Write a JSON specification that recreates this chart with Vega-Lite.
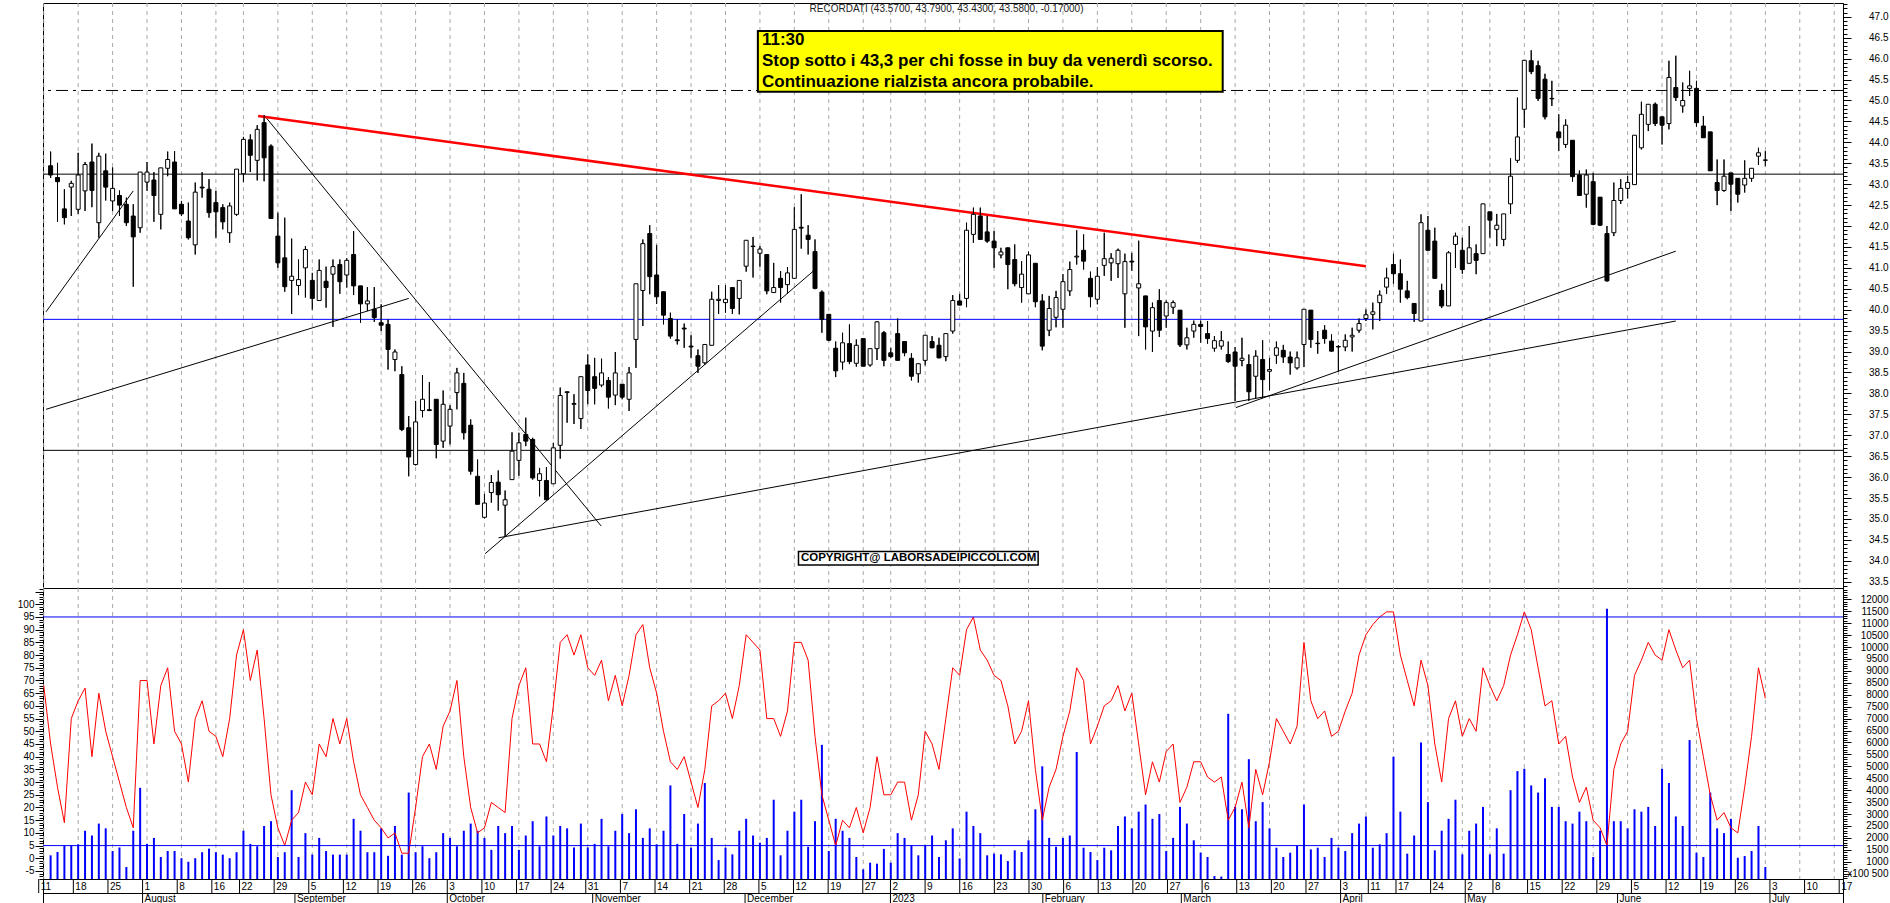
{
"$schema":"https://vega.github.io/schema/vega-lite/v6.json",
"padding":{"left":16,"top":2,"right":3,"bottom":0},
"background":"white",
"spacing":0,
"bounds":"flush",
"config":{"view":{"stroke":"black","strokeWidth":1},"axis":{"domainColor":"black","tickColor":"black","labelColor":"black","labelFont":"Liberation Sans","labelFontSize":10,"domainWidth":1,"tickWidth":1}},
"datasets":{
"candles":[
{"i":1,"o":43.44,"h":43.78,"l":43.15,"c":43.22,"v":1270},
{"i":2,"o":43.16,"h":43.51,"l":42.10,"c":43.06,"v":1410},
{"i":3,"o":42.41,"h":42.88,"l":42.04,"c":42.20,"v":1690},
{"i":4,"o":42.93,"h":43.08,"l":42.24,"c":43.02,"v":1690},
{"i":5,"o":42.40,"h":43.75,"l":42.29,"c":43.22,"v":1730},
{"i":6,"o":42.84,"h":43.53,"l":42.36,"c":43.47,"v":2300},
{"i":7,"o":43.53,"h":43.97,"l":42.45,"c":42.85,"v":2100},
{"i":8,"o":42.08,"h":43.75,"l":41.72,"c":43.67,"v":2600},
{"i":9,"o":43.32,"h":43.73,"l":42.61,"c":42.93,"v":2400},
{"i":10,"o":42.60,"h":43.40,"l":42.36,"c":42.90,"v":1450},
{"i":11,"o":42.73,"h":42.85,"l":42.24,"c":42.50,"v":1600},
{"i":12,"o":42.52,"h":42.68,"l":42.00,"c":42.08,"v":780},
{"i":13,"o":42.24,"h":42.52,"l":40.55,"c":41.74,"v":2300},
{"i":14,"o":41.96,"h":43.29,"l":41.84,"c":43.29,"v":4100},
{"i":15,"o":43.05,"h":43.53,"l":42.84,"c":43.29,"v":1750},
{"i":16,"o":43.10,"h":43.29,"l":42.10,"c":42.73,"v":2000},
{"i":17,"o":42.28,"h":43.39,"l":41.92,"c":43.39,"v":1200},
{"i":18,"o":43.38,"h":43.78,"l":43.19,"c":43.59,"v":1450},
{"i":19,"o":43.53,"h":43.79,"l":42.41,"c":42.41,"v":1450},
{"i":20,"o":42.52,"h":42.60,"l":42.24,"c":42.29,"v":1150},
{"i":21,"o":42.12,"h":42.56,"l":41.68,"c":41.72,"v":1000},
{"i":22,"o":41.55,"h":43.04,"l":41.32,"c":42.81,"v":1150},
{"i":23,"o":42.93,"h":43.29,"l":42.68,"c":42.91,"v":1400},
{"i":24,"o":42.88,"h":43.12,"l":42.20,"c":42.32,"v":1550},
{"i":25,"o":42.56,"h":42.84,"l":41.72,"c":42.34,"v":1400},
{"i":26,"o":42.44,"h":42.52,"l":41.92,"c":42.10,"v":1300},
{"i":27,"o":41.84,"h":42.56,"l":41.60,"c":42.48,"v":1150},
{"i":28,"o":42.28,"h":43.36,"l":42.24,"c":43.36,"v":1400},
{"i":29,"o":43.25,"h":44.13,"l":43.05,"c":44.07,"v":2300},
{"i":30,"o":44.06,"h":44.19,"l":43.29,"c":43.69,"v":1750},
{"i":31,"o":43.57,"h":44.41,"l":43.09,"c":44.31,"v":1650},
{"i":32,"o":44.47,"h":44.65,"l":43.07,"c":43.63,"v":2500},
{"i":33,"o":43.91,"h":43.95,"l":42.18,"c":42.18,"v":2700},
{"i":34,"o":41.76,"h":42.32,"l":41.00,"c":41.12,"v":1200},
{"i":35,"o":41.24,"h":42.20,"l":40.43,"c":40.55,"v":1400},
{"i":36,"o":40.70,"h":41.70,"l":39.90,"c":40.80,"v":4000},
{"i":37,"o":40.58,"h":41.20,"l":40.35,"c":40.72,"v":1200},
{"i":38,"o":41.00,"h":41.52,"l":40.29,"c":41.44,"v":2200},
{"i":39,"o":40.70,"h":40.88,"l":40.00,"c":40.27,"v":1300},
{"i":40,"o":40.22,"h":41.20,"l":40.22,"c":40.94,"v":2000},
{"i":41,"o":40.68,"h":41.03,"l":40.05,"c":40.53,"v":1450},
{"i":42,"o":40.85,"h":41.20,"l":39.59,"c":41.03,"v":1300},
{"i":43,"o":41.08,"h":41.20,"l":40.38,"c":40.67,"v":1300},
{"i":44,"o":40.83,"h":41.23,"l":40.53,"c":41.18,"v":1300},
{"i":45,"o":41.32,"h":41.88,"l":40.35,"c":40.57,"v":2800},
{"i":46,"o":40.57,"h":40.57,"l":39.69,"c":40.14,"v":2300},
{"i":47,"o":40.14,"h":40.54,"l":39.97,"c":40.21,"v":1400},
{"i":48,"o":40.01,"h":40.54,"l":39.71,"c":39.81,"v":1400},
{"i":49,"o":39.69,"h":40.13,"l":39.49,"c":39.63,"v":2400},
{"i":50,"o":39.65,"h":39.77,"l":38.57,"c":39.05,"v":1250},
{"i":51,"o":38.81,"h":39.05,"l":38.53,"c":38.99,"v":2500},
{"i":52,"o":38.45,"h":38.65,"l":37.10,"c":37.14,"v":1300},
{"i":53,"o":37.18,"h":37.46,"l":36.02,"c":36.48,"v":3900},
{"i":54,"o":36.30,"h":37.82,"l":36.28,"c":37.32,"v":1400},
{"i":55,"o":37.59,"h":38.44,"l":37.43,"c":37.86,"v":1650},
{"i":56,"o":37.61,"h":38.27,"l":37.58,"c":37.59,"v":1150},
{"i":57,"o":37.86,"h":37.86,"l":36.45,"c":36.78,"v":1400},
{"i":58,"o":36.86,"h":38.07,"l":36.70,"c":37.74,"v":2200},
{"i":59,"o":37.22,"h":37.72,"l":36.78,"c":37.62,"v":2000},
{"i":60,"o":38.02,"h":38.61,"l":37.62,"c":38.49,"v":1650},
{"i":61,"o":38.24,"h":38.49,"l":36.90,"c":37.06,"v":2300},
{"i":62,"o":37.24,"h":37.38,"l":36.06,"c":36.14,"v":2600},
{"i":63,"o":36.02,"h":36.42,"l":35.35,"c":35.35,"v":2300},
{"i":64,"o":35.04,"h":35.60,"l":35.01,"c":35.38,"v":2000},
{"i":65,"o":35.63,"h":36.05,"l":35.39,"c":35.87,"v":1500},
{"i":66,"o":35.88,"h":36.16,"l":35.20,"c":35.58,"v":2500},
{"i":67,"o":35.33,"h":35.68,"l":34.57,"c":35.46,"v":2200},
{"i":68,"o":35.94,"h":37.07,"l":35.94,"c":36.62,"v":2500},
{"i":69,"o":36.40,"h":37.06,"l":36.03,"c":36.82,"v":1500},
{"i":70,"o":37.02,"h":37.42,"l":36.74,"c":36.86,"v":2100},
{"i":71,"o":36.90,"h":36.94,"l":35.94,"c":35.98,"v":2700},
{"i":72,"o":35.92,"h":36.22,"l":35.54,"c":36.08,"v":1650},
{"i":73,"o":35.92,"h":36.24,"l":35.44,"c":35.46,"v":2900},
{"i":74,"o":35.84,"h":36.82,"l":35.84,"c":36.70,"v":2100},
{"i":75,"o":36.76,"h":38.14,"l":36.44,"c":37.95,"v":2500},
{"i":76,"o":38.02,"h":38.05,"l":37.30,"c":38.04,"v":2400},
{"i":77,"o":37.74,"h":37.98,"l":37.27,"c":37.76,"v":1600},
{"i":78,"o":37.40,"h":38.40,"l":37.15,"c":38.40,"v":2600},
{"i":79,"o":38.68,"h":38.93,"l":37.74,"c":38.07,"v":1600},
{"i":80,"o":38.40,"h":38.85,"l":37.74,"c":38.12,"v":1750},
{"i":81,"o":38.20,"h":38.83,"l":38.15,"c":38.49,"v":2800},
{"i":82,"o":38.31,"h":38.39,"l":37.64,"c":37.91,"v":1650},
{"i":83,"o":37.96,"h":38.99,"l":37.72,"c":38.49,"v":2300},
{"i":84,"o":38.22,"h":38.22,"l":37.86,"c":37.91,"v":3000},
{"i":85,"o":37.86,"h":38.63,"l":37.58,"c":38.49,"v":2200},
{"i":86,"o":39.29,"h":40.62,"l":38.61,"c":40.62,"v":3200},
{"i":87,"o":40.46,"h":41.68,"l":39.61,"c":41.58,"v":2000},
{"i":88,"o":41.82,"h":42.02,"l":40.37,"c":40.79,"v":2400},
{"i":89,"o":40.83,"h":41.55,"l":40.14,"c":40.31,"v":1730},
{"i":90,"o":40.43,"h":40.43,"l":39.65,"c":39.87,"v":2300},
{"i":91,"o":39.79,"h":39.93,"l":39.31,"c":39.37,"v":4200},
{"i":92,"o":39.28,"h":39.77,"l":39.17,"c":39.26,"v":1750},
{"i":93,"o":39.56,"h":39.67,"l":39.09,"c":39.54,"v":3000},
{"i":94,"o":39.13,"h":39.39,"l":38.85,"c":39.11,"v":1590},
{"i":95,"o":38.90,"h":39.05,"l":38.49,"c":38.65,"v":2600},
{"i":96,"o":38.73,"h":39.17,"l":38.69,"c":39.17,"v":4300},
{"i":97,"o":39.15,"h":40.43,"l":39.15,"c":40.25,"v":2000},
{"i":98,"o":40.22,"h":40.59,"l":39.90,"c":40.25,"v":1070},
{"i":99,"o":40.17,"h":40.59,"l":39.93,"c":40.25,"v":1590},
{"i":100,"o":40.53,"h":40.53,"l":39.90,"c":40.03,"v":1310},
{"i":101,"o":40.27,"h":40.70,"l":39.89,"c":40.70,"v":2300},
{"i":102,"o":41.04,"h":41.66,"l":40.91,"c":41.66,"v":2800},
{"i":103,"o":41.51,"h":41.74,"l":40.77,"c":41.52,"v":2100},
{"i":104,"o":41.35,"h":41.52,"l":41.03,"c":41.45,"v":1800},
{"i":105,"o":41.32,"h":41.32,"l":40.37,"c":40.45,"v":2000},
{"i":106,"o":40.41,"h":41.12,"l":40.41,"c":40.53,"v":3600},
{"i":107,"o":40.75,"h":40.92,"l":40.17,"c":40.53,"v":1270},
{"i":108,"o":40.60,"h":41.02,"l":40.38,"c":40.88,"v":2300},
{"i":109,"o":40.75,"h":42.45,"l":40.75,"c":41.92,"v":3100},
{"i":110,"o":41.97,"h":42.76,"l":41.46,"c":41.95,"v":3600},
{"i":111,"o":41.78,"h":42.02,"l":41.32,"c":41.68,"v":1630},
{"i":112,"o":41.39,"h":41.68,"l":40.49,"c":40.51,"v":2700},
{"i":113,"o":40.42,"h":40.46,"l":39.45,"c":39.77,"v":5900},
{"i":114,"o":39.89,"h":39.89,"l":39.25,"c":39.27,"v":1450},
{"i":115,"o":39.08,"h":39.24,"l":38.39,"c":38.54,"v":2800},
{"i":116,"o":38.75,"h":39.45,"l":38.57,"c":39.21,"v":2300},
{"i":117,"o":39.19,"h":39.65,"l":38.70,"c":38.76,"v":2000},
{"i":118,"o":38.72,"h":39.29,"l":38.64,"c":39.15,"v":1200},
{"i":119,"o":39.31,"h":39.31,"l":38.65,"c":38.65,"v":680},
{"i":120,"o":38.68,"h":39.07,"l":38.64,"c":39.07,"v":960},
{"i":121,"o":39.07,"h":39.73,"l":38.80,"c":39.71,"v":920},
{"i":122,"o":39.45,"h":39.49,"l":38.65,"c":38.79,"v":1540},
{"i":123,"o":38.97,"h":39.09,"l":38.85,"c":38.88,"v":960},
{"i":124,"o":39.43,"h":39.79,"l":38.79,"c":38.79,"v":2200},
{"i":125,"o":39.24,"h":39.24,"l":38.89,"c":38.97,"v":2000},
{"i":126,"o":38.84,"h":38.96,"l":38.31,"c":38.41,"v":1700},
{"i":127,"o":38.47,"h":38.71,"l":38.26,"c":38.71,"v":1270},
{"i":128,"o":38.79,"h":39.39,"l":38.67,"c":39.39,"v":1700},
{"i":129,"o":39.24,"h":39.37,"l":39.08,"c":39.09,"v":2100},
{"i":130,"o":39.15,"h":39.33,"l":38.84,"c":38.85,"v":1200},
{"i":131,"o":38.88,"h":39.43,"l":38.77,"c":39.43,"v":1900},
{"i":132,"o":39.49,"h":40.35,"l":39.43,"c":40.22,"v":2400},
{"i":133,"o":40.21,"h":40.38,"l":40.11,"c":40.11,"v":1140},
{"i":134,"o":40.27,"h":42.08,"l":40.06,"c":41.90,"v":3100},
{"i":135,"o":41.80,"h":42.44,"l":41.60,"c":42.28,"v":2500},
{"i":136,"o":42.24,"h":42.44,"l":41.68,"c":41.68,"v":2200},
{"i":137,"o":41.86,"h":42.24,"l":41.60,"c":41.64,"v":1270},
{"i":138,"o":41.64,"h":41.88,"l":41.00,"c":41.48,"v":1340},
{"i":139,"o":41.31,"h":41.48,"l":41.23,"c":41.38,"v":1310},
{"i":140,"o":41.48,"h":41.48,"l":40.49,"c":41.08,"v":1030},
{"i":141,"o":41.20,"h":41.56,"l":40.56,"c":40.62,"v":1480},
{"i":142,"o":40.53,"h":41.16,"l":40.17,"c":40.85,"v":1410},
{"i":143,"o":40.38,"h":41.39,"l":40.38,"c":41.31,"v":1900},
{"i":144,"o":41.11,"h":41.11,"l":40.06,"c":40.19,"v":3200},
{"i":145,"o":40.21,"h":40.37,"l":39.03,"c":39.13,"v":5000},
{"i":146,"o":39.51,"h":40.33,"l":39.37,"c":40.03,"v":2000},
{"i":147,"o":39.82,"h":40.45,"l":39.58,"c":40.29,"v":1630},
{"i":148,"o":40.01,"h":40.85,"l":39.57,"c":40.67,"v":2000},
{"i":149,"o":40.45,"h":41.15,"l":40.33,"c":40.96,"v":2100},
{"i":150,"o":41.26,"h":41.90,"l":41.08,"c":41.28,"v":5600},
{"i":151,"o":41.42,"h":41.80,"l":40.96,"c":41.16,"v":1590},
{"i":152,"o":40.75,"h":40.91,"l":40.06,"c":40.31,"v":1410},
{"i":153,"o":40.25,"h":41.02,"l":40.13,"c":40.80,"v":1070},
{"i":154,"o":41.06,"h":41.84,"l":40.81,"c":41.22,"v":1590},
{"i":155,"o":41.12,"h":41.35,"l":40.69,"c":41.23,"v":1480},
{"i":156,"o":41.10,"h":41.46,"l":40.76,"c":41.42,"v":2500},
{"i":157,"o":40.38,"h":41.34,"l":39.57,"c":41.15,"v":2900},
{"i":158,"o":41.16,"h":41.36,"l":40.93,"c":41.14,"v":2400},
{"i":159,"o":40.52,"h":41.65,"l":39.37,"c":40.62,"v":3100},
{"i":160,"o":40.33,"h":40.33,"l":39.05,"c":39.59,"v":3400},
{"i":161,"o":39.49,"h":40.17,"l":38.99,"c":40.05,"v":2800},
{"i":162,"o":40.22,"h":40.49,"l":39.35,"c":39.51,"v":3000},
{"i":163,"o":39.85,"h":40.22,"l":39.57,"c":40.17,"v":1450},
{"i":164,"o":40.06,"h":40.22,"l":39.90,"c":40.17,"v":2000},
{"i":165,"o":39.99,"h":39.99,"l":39.11,"c":39.16,"v":3300},
{"i":166,"o":39.16,"h":39.57,"l":39.05,"c":39.33,"v":2600},
{"i":167,"o":39.49,"h":39.74,"l":39.33,"c":39.65,"v":1900},
{"i":168,"o":39.65,"h":39.74,"l":39.21,"c":39.60,"v":1380},
{"i":169,"o":39.43,"h":39.73,"l":39.19,"c":39.31,"v":1200},
{"i":170,"o":39.08,"h":39.37,"l":39.00,"c":39.26,"v":400},
{"i":171,"o":39.13,"h":39.49,"l":39.05,"c":39.26,"v":380},
{"i":172,"o":38.93,"h":39.24,"l":38.73,"c":38.76,"v":7200},
{"i":173,"o":38.99,"h":39.11,"l":37.82,"c":38.65,"v":3300},
{"i":174,"o":38.79,"h":39.33,"l":38.65,"c":38.84,"v":3200},
{"i":175,"o":38.69,"h":38.93,"l":37.82,"c":38.04,"v":5300},
{"i":176,"o":38.41,"h":39.03,"l":37.89,"c":38.89,"v":2700},
{"i":177,"o":38.81,"h":39.27,"l":37.89,"c":38.33,"v":3500},
{"i":178,"o":38.53,"h":38.85,"l":38.07,"c":38.57,"v":2400},
{"i":179,"o":38.91,"h":39.24,"l":38.71,"c":39.09,"v":1590},
{"i":180,"o":39.03,"h":39.16,"l":38.73,"c":38.87,"v":1200},
{"i":181,"o":38.87,"h":39.00,"l":38.45,"c":38.73,"v":1380},
{"i":182,"o":38.61,"h":39.00,"l":38.57,"c":38.85,"v":1660},
{"i":183,"o":39.17,"h":40.01,"l":38.63,"c":40.01,"v":3400},
{"i":184,"o":39.99,"h":39.99,"l":39.09,"c":39.29,"v":1520},
{"i":185,"o":39.20,"h":39.49,"l":38.95,"c":39.19,"v":1590},
{"i":186,"o":39.51,"h":39.63,"l":39.19,"c":39.31,"v":1200},
{"i":187,"o":39.25,"h":39.41,"l":39.00,"c":39.01,"v":2000},
{"i":188,"o":39.12,"h":39.15,"l":38.53,"c":39.11,"v":1590},
{"i":189,"o":39.11,"h":39.41,"l":39.01,"c":39.27,"v":1450},
{"i":190,"o":39.35,"h":39.57,"l":39.00,"c":39.39,"v":2200},
{"i":191,"o":39.51,"h":39.79,"l":39.45,"c":39.67,"v":2600},
{"i":192,"o":39.79,"h":40.01,"l":39.73,"c":39.88,"v":2900},
{"i":193,"o":39.89,"h":40.17,"l":39.53,"c":39.95,"v":1590},
{"i":194,"o":40.17,"h":40.46,"l":39.73,"c":40.35,"v":1730},
{"i":195,"o":40.54,"h":41.00,"l":40.38,"c":40.76,"v":2200},
{"i":196,"o":41.08,"h":41.34,"l":40.62,"c":40.86,"v":5400},
{"i":197,"o":40.86,"h":41.20,"l":40.17,"c":40.49,"v":3100},
{"i":198,"o":40.45,"h":40.69,"l":40.25,"c":40.29,"v":1340},
{"i":199,"o":40.15,"h":40.15,"l":39.71,"c":39.91,"v":2100},
{"i":200,"o":39.73,"h":42.28,"l":39.73,"c":42.08,"v":6000},
{"i":201,"o":41.90,"h":42.24,"l":41.42,"c":41.42,"v":3500},
{"i":202,"o":41.64,"h":41.96,"l":40.75,"c":40.75,"v":1480},
{"i":203,"o":40.46,"h":40.62,"l":40.04,"c":40.09,"v":2300},
{"i":204,"o":40.09,"h":41.40,"l":40.09,"c":41.36,"v":2800},
{"i":205,"o":41.56,"h":41.84,"l":41.00,"c":41.76,"v":3600},
{"i":206,"o":41.42,"h":41.72,"l":40.86,"c":40.96,"v":1310},
{"i":207,"o":41.11,"h":42.00,"l":41.11,"c":41.48,"v":2300},
{"i":208,"o":41.34,"h":41.56,"l":40.85,"c":41.18,"v":2600},
{"i":209,"o":41.34,"h":42.53,"l":41.34,"c":42.53,"v":3300},
{"i":210,"o":42.34,"h":42.34,"l":41.72,"c":42.14,"v":1310},
{"i":211,"o":41.92,"h":42.29,"l":41.52,"c":42.02,"v":2400},
{"i":212,"o":41.68,"h":42.29,"l":41.52,"c":42.29,"v":1340},
{"i":213,"o":42.53,"h":43.62,"l":42.29,"c":43.19,"v":4000},
{"i":214,"o":43.57,"h":45.07,"l":43.51,"c":44.13,"v":4800},
{"i":215,"o":44.79,"h":45.96,"l":44.35,"c":45.96,"v":4900},
{"i":216,"o":45.95,"h":46.20,"l":45.63,"c":45.69,"v":4200},
{"i":217,"o":45.83,"h":45.95,"l":44.99,"c":45.05,"v":3900},
{"i":218,"o":45.51,"h":45.64,"l":44.55,"c":44.61,"v":4500},
{"i":219,"o":45.04,"h":45.47,"l":44.87,"c":45.05,"v":3300},
{"i":220,"o":44.25,"h":44.67,"l":43.79,"c":44.11,"v":3300},
{"i":221,"o":43.95,"h":44.55,"l":43.87,"c":44.41,"v":2700},
{"i":222,"o":44.05,"h":44.05,"l":43.06,"c":43.18,"v":2600},
{"i":223,"o":43.22,"h":43.33,"l":42.73,"c":42.73,"v":3100},
{"i":224,"o":42.76,"h":43.35,"l":42.44,"c":43.22,"v":2700},
{"i":225,"o":43.06,"h":43.27,"l":42.02,"c":42.04,"v":1200},
{"i":226,"o":42.69,"h":42.69,"l":42.00,"c":42.02,"v":2300},
{"i":227,"o":41.82,"h":42.00,"l":40.67,"c":40.69,"v":11600},
{"i":228,"o":41.84,"h":43.04,"l":41.76,"c":42.61,"v":2700},
{"i":229,"o":42.61,"h":43.12,"l":42.53,"c":42.90,"v":2700},
{"i":230,"o":42.90,"h":43.20,"l":42.66,"c":43.04,"v":2400},
{"i":231,"o":42.99,"h":44.17,"l":42.99,"c":44.17,"v":3200},
{"i":232,"o":43.87,"h":44.97,"l":43.83,"c":44.67,"v":3100},
{"i":233,"o":44.43,"h":44.91,"l":44.27,"c":44.91,"v":3300},
{"i":234,"o":44.91,"h":44.95,"l":44.39,"c":44.45,"v":2500},
{"i":235,"o":44.61,"h":44.61,"l":43.95,"c":44.41,"v":4900},
{"i":236,"o":44.45,"h":45.95,"l":44.31,"c":45.55,"v":4300},
{"i":237,"o":45.31,"h":46.07,"l":44.99,"c":45.07,"v":2900},
{"i":238,"o":44.87,"h":45.43,"l":44.71,"c":45.00,"v":2500},
{"i":239,"o":45.29,"h":45.71,"l":45.11,"c":45.35,"v":6100},
{"i":240,"o":45.29,"h":45.47,"l":44.37,"c":44.47,"v":1380},
{"i":241,"o":44.39,"h":44.63,"l":44.11,"c":44.11,"v":1200},
{"i":242,"o":44.25,"h":44.25,"l":43.32,"c":43.32,"v":3900},
{"i":243,"o":43.04,"h":43.59,"l":42.50,"c":42.85,"v":2400},
{"i":244,"o":42.85,"h":43.59,"l":42.82,"c":43.19,"v":2200},
{"i":245,"o":43.27,"h":43.27,"l":42.36,"c":43.00,"v":2800},
{"i":246,"o":43.14,"h":43.14,"l":42.56,"c":42.76,"v":1170},
{"i":247,"o":42.98,"h":43.57,"l":42.80,"c":43.14,"v":1240},
{"i":248,"o":43.14,"h":43.38,"l":43.06,"c":43.38,"v":1450},
{"i":249,"o":43.67,"h":43.87,"l":43.46,"c":43.75,"v":2500},
{"i":250,"o":43.57,"h":43.79,"l":43.43,"c":43.58,"v":780}
],
"osc":[
{"i":0,"r":68},{"i":1,"r":45},{"i":2,"r":28},{"i":3,"r":14},{"i":4,"r":55},{"i":5,"r":62},{"i":6,"r":67},{"i":7,"r":40},{"i":8,"r":65},{"i":9,"r":50},
{"i":10,"r":40},{"i":11,"r":30},{"i":12,"r":20},{"i":13,"r":12},{"i":14,"r":70},{"i":15,"r":70},{"i":16,"r":45},{"i":17,"r":68},{"i":18,"r":75},{"i":19,"r":50},
{"i":20,"r":45},{"i":21,"r":30},{"i":22,"r":55},{"i":23,"r":62},{"i":24,"r":50},{"i":25,"r":48},{"i":26,"r":40},{"i":27,"r":55},{"i":28,"r":80},{"i":29,"r":90},
{"i":30,"r":70},{"i":31,"r":82},{"i":32,"r":55},{"i":33,"r":25},{"i":34,"r":12},{"i":35,"r":5},{"i":36,"r":15},{"i":37,"r":18},{"i":38,"r":30},{"i":39,"r":25},
{"i":40,"r":45},{"i":41,"r":40},{"i":42,"r":55},{"i":43,"r":45},{"i":44,"r":55},{"i":45,"r":38},{"i":46,"r":25},{"i":47,"r":20},{"i":48,"r":15},{"i":49,"r":12},
{"i":50,"r":8},{"i":51,"r":10},{"i":52,"r":2},{"i":53,"r":2},{"i":54,"r":20},{"i":55,"r":40},{"i":56,"r":45},{"i":57,"r":35},{"i":58,"r":52},{"i":59,"r":58},
{"i":60,"r":70},{"i":61,"r":40},{"i":62,"r":20},{"i":63,"r":10},{"i":64,"r":12},{"i":65,"r":22},{"i":66,"r":20},{"i":67,"r":18},{"i":68,"r":55},{"i":69,"r":68},
{"i":70,"r":75},{"i":71,"r":45},{"i":72,"r":45},{"i":73,"r":38},{"i":74,"r":60},{"i":75,"r":85},{"i":76,"r":88},{"i":77,"r":80},{"i":78,"r":88},{"i":79,"r":75},
{"i":80,"r":72},{"i":81,"r":78},{"i":82,"r":62},{"i":83,"r":72},{"i":84,"r":60},{"i":85,"r":72},{"i":86,"r":88},{"i":87,"r":92},{"i":88,"r":75},{"i":89,"r":65},
{"i":90,"r":50},{"i":91,"r":38},{"i":92,"r":35},{"i":93,"r":40},{"i":94,"r":30},{"i":95,"r":20},{"i":96,"r":35},{"i":97,"r":60},{"i":98,"r":62},{"i":99,"r":65},
{"i":100,"r":55},{"i":101,"r":68},{"i":102,"r":88},{"i":103,"r":85},{"i":104,"r":82},{"i":105,"r":55},{"i":106,"r":55},{"i":107,"r":48},{"i":108,"r":58},{"i":109,"r":85},
{"i":110,"r":85},{"i":111,"r":78},{"i":112,"r":48},{"i":113,"r":25},{"i":114,"r":15},{"i":115,"r":5},{"i":116,"r":15},{"i":117,"r":12},{"i":118,"r":20},{"i":119,"r":10},
{"i":120,"r":20},{"i":121,"r":40},{"i":122,"r":25},{"i":123,"r":25},{"i":124,"r":30},{"i":125,"r":30},{"i":126,"r":15},{"i":127,"r":25},{"i":128,"r":50},{"i":129,"r":45},
{"i":130,"r":35},{"i":131,"r":55},{"i":132,"r":75},{"i":133,"r":72},{"i":134,"r":90},{"i":135,"r":95},{"i":136,"r":82},{"i":137,"r":78},{"i":138,"r":72},{"i":139,"r":70},
{"i":140,"r":60},{"i":141,"r":45},{"i":142,"r":50},{"i":143,"r":62},{"i":144,"r":35},{"i":145,"r":15},{"i":146,"r":28},{"i":147,"r":35},{"i":148,"r":48},{"i":149,"r":58},
{"i":150,"r":75},{"i":151,"r":70},{"i":152,"r":45},{"i":153,"r":52},{"i":154,"r":60},{"i":155,"r":62},{"i":156,"r":68},{"i":157,"r":58},{"i":158,"r":65},{"i":159,"r":45},
{"i":160,"r":25},{"i":161,"r":38},{"i":162,"r":30},{"i":163,"r":42},{"i":164,"r":45},{"i":165,"r":22},{"i":166,"r":28},{"i":167,"r":38},{"i":168,"r":38},{"i":169,"r":32},
{"i":170,"r":30},{"i":171,"r":32},{"i":172,"r":15},{"i":173,"r":20},{"i":174,"r":30},{"i":175,"r":12},{"i":176,"r":35},{"i":177,"r":25},{"i":178,"r":38},{"i":179,"r":55},
{"i":180,"r":50},{"i":181,"r":45},{"i":182,"r":52},{"i":183,"r":85},{"i":184,"r":62},{"i":185,"r":55},{"i":186,"r":58},{"i":187,"r":48},{"i":188,"r":50},{"i":189,"r":58},
{"i":190,"r":65},{"i":191,"r":80},{"i":192,"r":88},{"i":193,"r":92},{"i":194,"r":95},{"i":195,"r":97},{"i":196,"r":97},{"i":197,"r":80},{"i":198,"r":70},{"i":199,"r":60},
{"i":200,"r":78},{"i":201,"r":68},{"i":202,"r":45},{"i":203,"r":30},{"i":204,"r":55},{"i":205,"r":62},{"i":206,"r":48},{"i":207,"r":55},{"i":208,"r":50},{"i":209,"r":75},
{"i":210,"r":68},{"i":211,"r":62},{"i":212,"r":68},{"i":213,"r":80},{"i":214,"r":88},{"i":215,"r":97},{"i":216,"r":90},{"i":217,"r":75},{"i":218,"r":60},{"i":219,"r":62},
{"i":220,"r":45},{"i":221,"r":48},{"i":222,"r":32},{"i":223,"r":22},{"i":224,"r":28},{"i":225,"r":15},{"i":226,"r":12},{"i":227,"r":5},{"i":228,"r":35},{"i":229,"r":45},
{"i":230,"r":50},{"i":231,"r":72},{"i":232,"r":78},{"i":233,"r":85},{"i":234,"r":80},{"i":235,"r":78},{"i":236,"r":90},{"i":237,"r":82},{"i":238,"r":75},{"i":239,"r":78},
{"i":240,"r":55},{"i":241,"r":40},{"i":242,"r":25},{"i":243,"r":15},{"i":244,"r":18},{"i":245,"r":12},{"i":246,"r":10},{"i":247,"r":28},{"i":248,"r":48},{"i":249,"r":75},
{"i":250,"r":63}
],
"xlab":[
{"i":0,"t":"11","row":"day"},{"i":5,"t":"18","row":"day"},{"i":10,"t":"25","row":"day"},{"i":15,"t":"1","row":"day"},{"i":20,"t":"8","row":"day"},{"i":25,"t":"16","row":"day"},{"i":29,"t":"22","row":"day"},{"i":34,"t":"29","row":"day"},{"i":39,"t":"5","row":"day"},{"i":44,"t":"12","row":"day"},{"i":49,"t":"19","row":"day"},{"i":54,"t":"26","row":"day"},{"i":59,"t":"3","row":"day"},{"i":64,"t":"10","row":"day"},{"i":69,"t":"17","row":"day"},{"i":74,"t":"24","row":"day"},{"i":79,"t":"31","row":"day"},{"i":84,"t":"7","row":"day"},{"i":89,"t":"14","row":"day"},{"i":94,"t":"21","row":"day"},{"i":99,"t":"28","row":"day"},{"i":104,"t":"5","row":"day"},{"i":109,"t":"12","row":"day"},{"i":114,"t":"19","row":"day"},{"i":119,"t":"27","row":"day"},{"i":123,"t":"2","row":"day"},{"i":128,"t":"9","row":"day"},{"i":133,"t":"16","row":"day"},{"i":138,"t":"23","row":"day"},{"i":143,"t":"30","row":"day"},{"i":148,"t":"6","row":"day"},{"i":153,"t":"13","row":"day"},{"i":158,"t":"20","row":"day"},{"i":163,"t":"27","row":"day"},{"i":168,"t":"6","row":"day"},{"i":173,"t":"13","row":"day"},{"i":178,"t":"20","row":"day"},{"i":183,"t":"27","row":"day"},{"i":188,"t":"3","row":"day"},{"i":192,"t":"11","row":"day"},{"i":196,"t":"17","row":"day"},{"i":201,"t":"24","row":"day"},{"i":206,"t":"2","row":"day"},{"i":210,"t":"8","row":"day"},{"i":215,"t":"15","row":"day"},{"i":220,"t":"22","row":"day"},{"i":225,"t":"29","row":"day"},{"i":230,"t":"5","row":"day"},{"i":235,"t":"12","row":"day"},{"i":240,"t":"19","row":"day"},{"i":245,"t":"26","row":"day"},{"i":250,"t":"3","row":"day"},{"i":255,"t":"10","row":"day"},{"i":260,"t":"17","row":"day"},
{"i":15,"t":"August","row":"month"},{"i":37,"t":"September","row":"month"},{"i":59,"t":"October","row":"month"},{"i":80,"t":"November","row":"month"},{"i":102,"t":"December","row":"month"},{"i":123,"t":"2023","row":"month"},{"i":145,"t":"February","row":"month"},{"i":165,"t":"March","row":"month"},{"i":188,"t":"April","row":"month"},{"i":206,"t":"May","row":"month"},{"i":228,"t":"June","row":"month"},{"i":250,"t":"July","row":"month"}
],
"trend":[
{"kind":"red","x1":31.13,"y1":44.63,"x2":192.0,"y2":41.04},
{"kind":"black","x1":0.33,"y1":39.95,"x2":13.0,"y2":42.84},
{"kind":"black","x1":0.33,"y1":37.62,"x2":53.0,"y2":40.27},
{"kind":"black","x1":32.1,"y1":44.63,"x2":80.95,"y2":34.83},
{"kind":"black","x1":64.1,"y1":34.17,"x2":111.8,"y2":40.93},
{"kind":"black","x1":66.04,"y1":34.55,"x2":237.0,"y2":39.73},
{"kind":"black","x1":173.1,"y1":37.66,"x2":237.0,"y2":41.40}
],
"levels":[{"p":45.24,"k":"dash"},{"p":43.24,"k":"solid"},{"p":36.64,"k":"solid"},{"p":39.77,"k":"blue"}],
"osclevels":[{"r":95},{"r":5}],
"boxes":[
{"kind":"note","x1":103.7,"x2":171.2,"y1":45.21,"y2":46.66},
{"kind":"copy","x1":109.6,"x2":144.4,"y1":33.90,"y2":34.22}
],
"notes":[
{"kind":"note","i":104.3,"p":46.64,"t":"11:30\nStop sotto i 43,3 per chi fosse in buy da venerdì scorso.\nContinuazione rialzista ancora probabile."},
{"kind":"copy","i":127.05,"p":34.06,"t":"COPYRIGHT@ LABORSADEIPICCOLI.COM"},
{"kind":"title","i":131.1,"p":47.18,"t":"RECORDATI (43.5700, 43.7900, 43.4300, 43.5800, -0.17000)"}
]
},
"vconcat":[
{
"width":1800,"height":585,
"layer":[
{"data":{"name":"candles"},"mark":{"type":"rule","color":"black","strokeWidth":1,"clip":true},
 "encoding":{"x":{"field":"i","type":"quantitative","scale":{"domain":[0.62,260.55],"nice":false,"zero":false},"axis":null},
 "y":{"field":"l","type":"quantitative","scale":{"domain":[33.35,47.33],"nice":false,"zero":false},
  "axis":{"orient":"right","title":null,"tickCount":140,"grid":false,"labelOverlap":false,"labelFlush":false,"labelAlign":"right","labelPadding":37,"format":".1f",
   "labelExpr":"round(datum.value*10) % 5 == 0 ? datum.label : ''",
   "labelFontSize":{"condition":{"test":"round(datum.value*10) % 5 == 0","value":10},"value":0},
   "tickSize":{"condition":{"test":"round(datum.value*10) % 5 == 0","value":8},"value":4}}},
 "y2":{"field":"h"}}},
{"data":{"name":"xlab"},"transform":[{"filter":"datum.row == 'day'"}],"mark":{"type":"rule","strokeDash":[4,4],"color":"#a8a8a8","clip":true},
 "encoding":{"x":{"field":"i","type":"quantitative","scale":{"domain":[0.62,260.55],"nice":false,"zero":false},"axis":null}}},
{"data":{"name":"levels"},"transform":[{"filter":"datum.k == 'solid'"}],"mark":{"type":"rule","color":"black","strokeWidth":1},
 "encoding":{"y":{"field":"p","type":"quantitative","scale":{"domain":[33.35,47.33],"nice":false,"zero":false},"axis":null}}},
{"data":{"name":"levels"},"transform":[{"filter":"datum.k == 'blue'"}],"mark":{"type":"rule","color":"#0000ff","strokeWidth":1},
 "encoding":{"y":{"field":"p","type":"quantitative","scale":{"domain":[33.35,47.33],"nice":false,"zero":false},"axis":null}}},
{"data":{"name":"levels"},"transform":[{"filter":"datum.k == 'dash'"}],"mark":{"type":"rule","color":"black","strokeWidth":1,"strokeDash":[12,5,3,5]},
 "encoding":{"y":{"field":"p","type":"quantitative","scale":{"domain":[33.35,47.33],"nice":false,"zero":false},"axis":null}}},
{"data":{"name":"trend"},"transform":[{"filter":"datum.kind == 'black'"}],"mark":{"type":"rule","color":"black","strokeWidth":1,"clip":true},
 "encoding":{"x":{"field":"x1","type":"quantitative","scale":{"domain":[0.62,260.55],"nice":false,"zero":false},"axis":null},"x2":{"field":"x2"},
 "y":{"field":"y1","type":"quantitative","scale":{"domain":[33.35,47.33],"nice":false,"zero":false},"axis":null},"y2":{"field":"y2"}}},
{"data":{"name":"trend"},"transform":[{"filter":"datum.kind == 'red'"}],"mark":{"type":"rule","color":"#ff0000","strokeWidth":2.5,"clip":true},
 "encoding":{"x":{"field":"x1","type":"quantitative","scale":{"domain":[0.62,260.55],"nice":false,"zero":false},"axis":null},"x2":{"field":"x2"},
 "y":{"field":"y1","type":"quantitative","scale":{"domain":[33.35,47.33],"nice":false,"zero":false},"axis":null},"y2":{"field":"y2"}}},
{"data":{"name":"candles"},"mark":{"type":"rule","color":"black","strokeWidth":1,"clip":true},
 "encoding":{"x":{"field":"i","type":"quantitative","scale":{"domain":[0.62,260.55],"nice":false,"zero":false},"axis":null},
 "y":{"field":"l","type":"quantitative","scale":{"domain":[33.35,47.33],"nice":false,"zero":false},"axis":null},"y2":{"field":"h"}}},
{"data":{"name":"candles"},"mark":{"type":"bar","size":4,"stroke":"black","strokeWidth":1,"clip":true},
 "encoding":{"x":{"field":"i","type":"quantitative","scale":{"domain":[0.62,260.55],"nice":false,"zero":false},"axis":null},
 "y":{"field":"o","type":"quantitative","scale":{"domain":[33.35,47.33],"nice":false,"zero":false},"axis":null},"y2":{"field":"c"},
 "fill":{"condition":{"test":"datum.c >= datum.o","value":"white"},"value":"black"}}},
{"data":{"name":"boxes"},"transform":[{"filter":"datum.kind == 'note'"}],"mark":{"type":"rect","fill":"#ffff00","stroke":"black","strokeWidth":2},
 "encoding":{"x":{"field":"x1","type":"quantitative","scale":{"domain":[0.62,260.55],"nice":false,"zero":false},"axis":null},"x2":{"field":"x2"},
 "y":{"field":"y1","type":"quantitative","scale":{"domain":[33.35,47.33],"nice":false,"zero":false},"axis":null},"y2":{"field":"y2"}}},
{"data":{"name":"boxes"},"transform":[{"filter":"datum.kind == 'copy'"}],"mark":{"type":"rect","fill":"white","stroke":"black","strokeWidth":1.5},
 "encoding":{"x":{"field":"x1","type":"quantitative","scale":{"domain":[0.62,260.55],"nice":false,"zero":false},"axis":null},"x2":{"field":"x2"},
 "y":{"field":"y1","type":"quantitative","scale":{"domain":[33.35,47.33],"nice":false,"zero":false},"axis":null},"y2":{"field":"y2"}}},
{"data":{"name":"notes"},"transform":[{"filter":"datum.kind == 'note'"}],"mark":{"type":"text","align":"left","baseline":"top","lineBreak":"\n","lineHeight":21,"fontSize":17,"fontWeight":"bold","font":"Liberation Sans","color":"black"},
 "encoding":{"x":{"field":"i","type":"quantitative","scale":{"domain":[0.62,260.55],"nice":false,"zero":false},"axis":null},
 "y":{"field":"p","type":"quantitative","scale":{"domain":[33.35,47.33],"nice":false,"zero":false},"axis":null},"text":{"field":"t"}}},
{"data":{"name":"notes"},"transform":[{"filter":"datum.kind == 'copy'"}],"mark":{"type":"text","align":"center","baseline":"middle","fontSize":11.5,"fontWeight":"bold","font":"Liberation Sans","color":"black"},
 "encoding":{"x":{"field":"i","type":"quantitative","scale":{"domain":[0.62,260.55],"nice":false,"zero":false},"axis":null},
 "y":{"field":"p","type":"quantitative","scale":{"domain":[33.35,47.33],"nice":false,"zero":false},"axis":null},"text":{"field":"t"}}},
{"data":{"name":"notes"},"transform":[{"filter":"datum.kind == 'title'"}],"mark":{"type":"text","align":"center","baseline":"middle","fontSize":10,"font":"Liberation Sans","color":"#222222"},
 "encoding":{"x":{"field":"i","type":"quantitative","scale":{"domain":[0.62,260.55],"nice":false,"zero":false},"axis":null},
 "y":{"field":"p","type":"quantitative","scale":{"domain":[33.35,47.33],"nice":false,"zero":false},"axis":null},"text":{"field":"t"}}}
],
"resolve":{"scale":{"y":"independent"},"axis":{"y":"independent"}}
},
{
"width":1800,"height":291,
"layer":[
{"data":{"name":"xlab"},"transform":[{"filter":"datum.row == 'day'"}],"mark":{"type":"rule","strokeDash":[4,4],"color":"#a8a8a8","clip":true},
 "encoding":{"x":{"field":"i","type":"quantitative","scale":{"domain":[0.62,260.55],"nice":false,"zero":false},"axis":null}}},
{"data":{"name":"candles"},"mark":{"type":"bar","orient":"vertical","size":2,"color":"#0000ff","clip":true},
 "encoding":{"x":{"field":"i","type":"quantitative","scale":{"domain":[0.62,260.55],"nice":false,"zero":false},"axis":null},
 "y":{"field":"v","type":"quantitative","scale":{"domain":[278,12473],"nice":false,"zero":false},
  "axis":{"orient":"right","title":null,"tickCount":122,"grid":false,"labelOverlap":false,"labelFlush":false,"labelAlign":"right","labelPadding":37,
   "labelExpr":"datum.value % 500 == 0 ? (datum.value == 500 ? 'x100 500' : '' + datum.value) : ''",
   "labelFontSize":{"condition":{"test":"datum.value % 500 == 0","value":10},"value":0},
   "tickSize":{"condition":{"test":"datum.value % 500 == 0","value":8},"value":4}}}}},
{"data":{"name":"osc"},"mark":{"type":"line","color":"#ff0000","strokeWidth":1,"clip":true},
 "encoding":{"x":{"field":"i","type":"quantitative","scale":{"domain":[0.62,260.55],"nice":false,"zero":false},"axis":null},
 "y":{"field":"r","type":"quantitative","scale":{"domain":[-8.15,106.4],"nice":false,"zero":false},
  "axis":{"orient":"left","title":null,"tickCount":115,"grid":false,"labelOverlap":false,"labelFlush":false,"labelPadding":1,
   "labelExpr":"datum.value % 5 == 0 && datum.value <= 100 ? (datum.value < 0 ? '-' : '') + round(abs(datum.value)) : ''",
   "labelFontSize":{"condition":{"test":"datum.value % 5 == 0 && datum.value <= 100","value":10},"value":0},
   "tickSize":{"condition":{"test":"datum.value % 5 == 0","value":8},"value":4}}}}},
{"data":{"name":"osclevels"},"mark":{"type":"rule","color":"#0000ff","strokeWidth":1},
 "encoding":{"y":{"field":"r","type":"quantitative","scale":{"domain":[-8.15,106.4],"nice":false,"zero":false},"axis":null}}}
],
"resolve":{"scale":{"y":"independent"},"axis":{"y":"independent"}}
},
{
"width":1800,"height":14,
"data":{"name":"xlab"},"transform":[{"filter":"datum.row == 'day'"}],
"layer":[
{"mark":{"type":"rule","color":"black","strokeWidth":1},
 "encoding":{"x":{"field":"i","type":"quantitative","scale":{"domain":[0.62,260.55],"nice":false,"zero":false},"axis":null}}},
{"mark":{"type":"text","align":"left","baseline":"middle","dx":2,"dy":1,"fontSize":10,"font":"Liberation Sans","color":"black"},
 "encoding":{"x":{"field":"i","type":"quantitative","scale":{"domain":[0.62,260.55],"nice":false,"zero":false},"axis":null},"text":{"field":"t"}}}
]
},
{
"width":1800,"height":11,
"data":{"name":"xlab"},"transform":[{"filter":"datum.row == 'month'"}],
"layer":[
{"mark":{"type":"rule","color":"black","strokeWidth":1},
 "encoding":{"x":{"field":"i","type":"quantitative","scale":{"domain":[0.62,260.55],"nice":false,"zero":false},"axis":null}}},
{"mark":{"type":"text","align":"left","baseline":"middle","dx":2,"dy":0,"fontSize":10,"font":"Liberation Sans","color":"black"},
 "encoding":{"x":{"field":"i","type":"quantitative","scale":{"domain":[0.62,260.55],"nice":false,"zero":false},"axis":null},"text":{"field":"t"}}}
]
}
]
}
